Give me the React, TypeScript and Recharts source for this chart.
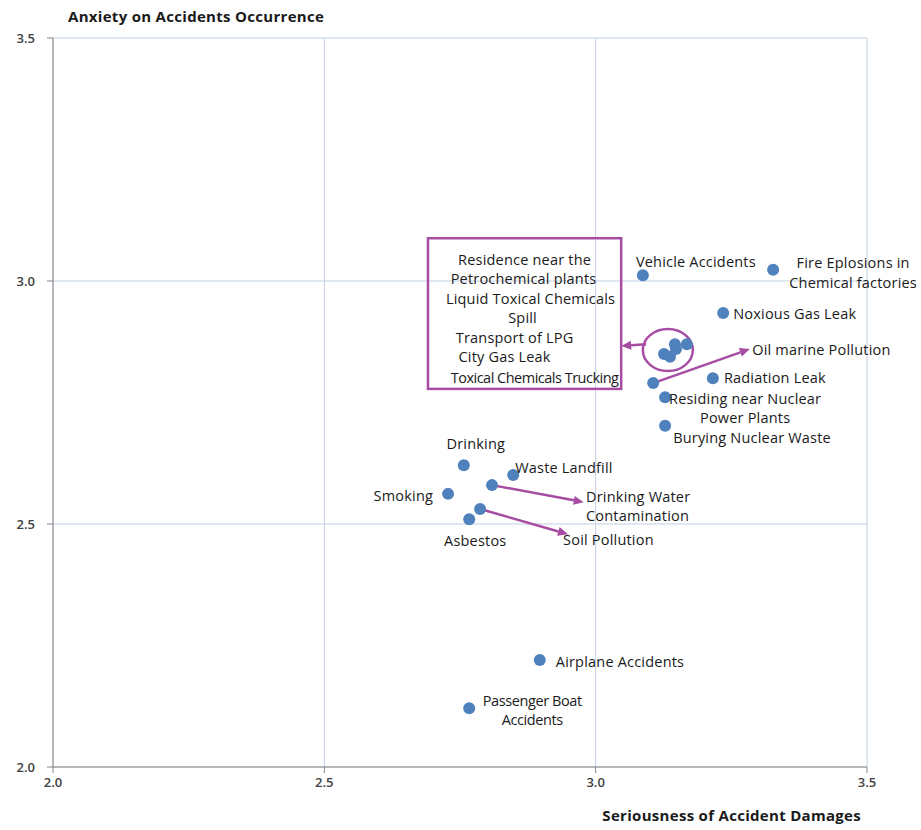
import React from "react";
import {
  ScatterChart,
  Scatter,
  XAxis,
  YAxis,
  CartesianGrid,
  ReferenceArea,
  ReferenceLine,
  ReferenceDot,
} from "recharts";

// ---- Data ----
const pointNames = [
  "Vehicle Accidents",
  "Fire Eplosions in Chemical factories",
  "Noxious Gas Leak",
  "Residence near the Petrochemical plants",
  "Liquid Toxical Chemicals Spill",
  "Transport of LPG",
  "City Gas Leak",
  "Toxical Chemicals Trucking",
  "Oil marine Pollution",
  "Radiation Leak",
  "Residing near Nuclear Power Plants",
  "Burying Nuclear Waste",
  "Drinking",
  "Waste Landfill",
  "Drinking Water Contamination",
  "Smoking",
  "Soil Pollution",
  "Asbestos",
  "Airplane Accidents",
  "Passenger Boat Accidents",
];
const seriousness = [
  3.087, 3.327, 3.235, 3.146, 3.168, 3.126, 3.137, 3.148, 3.106, 3.216, 3.128,
  3.128, 2.757, 2.848, 2.809, 2.728, 2.787, 2.767, 2.897, 2.767,
];
const anxiety = [
  3.012, 3.023, 2.934, 2.87, 2.87, 2.85, 2.844, 2.86, 2.79, 2.8, 2.761, 2.702,
  2.621, 2.601, 2.58, 2.562, 2.531, 2.51, 2.22, 2.121,
];
// label text lines (empty = label shown inside the callout box)
const labelLines: string[][] = [
  ["Vehicle Accidents"],
  ["Fire Eplosions in", "Chemical factories"],
  ["Noxious Gas Leak"],
  [],
  [],
  [],
  [],
  [],
  ["Oil marine Pollution"],
  ["Radiation Leak"],
  ["Residing near Nuclear", "Power  Plants"],
  ["Burying Nuclear Waste"],
  ["Drinking"],
  ["Waste Landfill"],
  ["Drinking Water", "Contamination"],
  ["Smoking"],
  ["Soil Pollution"],
  ["Asbestos"],
  ["Airplane Accidents"],
  ["Passenger Boat", "Accidents"],
];
const boxLabelLines = [
  "Residence near the",
  "Petrochemical plants",
  "Liquid Toxical Chemicals",
  "Spill",
  "Transport of LPG",
  "City Gas Leak",
  "Toxical Chemicals Trucking",
];
const xTicks = [2.0, 2.5, 3.0, 3.5];
const yTicks = [2.0, 2.5, 3.0, 3.5];
const xTitle = "Seriousness of Accident Damages";
const yTitle = "Anxiety on Accidents Occurrence";

// callout geometry in data coordinates
const calloutBox = { x1: 2.691, x2: 3.047, y1: 2.778, y2: 3.088 };
const clusterCenter = { x: 3.133, y: 2.858 };
const arrows = [
  { from: { x: 3.093, y: 2.87 }, to: { x: 3.047, y: 2.866 } },
  { from: { x: 3.106, y: 2.79 }, to: { x: 3.284, y: 2.86 } },
  { from: { x: 2.809, y: 2.58 }, to: { x: 2.978, y: 2.545 } },
  { from: { x: 2.787, y: 2.531 }, to: { x: 2.949, y: 2.479 } },
];

// ---- Layout (pixel offsets of labels relative to points) ----
const labelLayout: { dx: number; dy: number; anchor: "start" | "middle" | "end"; sp?: number }[] = [
  { dx: -7, dy: -14, anchor: "start" },
  { dx: 80, dy: -7, anchor: "middle" },
  { dx: 10, dy: 0, anchor: "start" },
  { dx: 0, dy: 0, anchor: "start" },
  { dx: 0, dy: 0, anchor: "start" },
  { dx: 0, dy: 0, anchor: "start" },
  { dx: 0, dy: 0, anchor: "start" },
  { dx: 0, dy: 0, anchor: "start" },
  { dx: 99, dy: -34, anchor: "start" },
  { dx: 11, dy: -1, anchor: "start" },
  { dx: 80, dy: 1, anchor: "middle" },
  { dx: 8, dy: 12, anchor: "start" },
  { dx: 12, dy: -22, anchor: "middle" },
  { dx: 2, dy: -7, anchor: "start" },
  { dx: 94, dy: 11, anchor: "start" },
  { dx: -15, dy: 2, anchor: "end" },
  { dx: 83, dy: 31, anchor: "start" },
  { dx: 6, dy: 21, anchor: "middle" },
  { dx: 16, dy: 1, anchor: "start" },
  { dx: 63, dy: -8, anchor: "middle", sp: -0.4 },
];

const FONT = "'Open Sans', Lato, sans-serif";
const DOT = "#4F81BD";
const PURPLE = "#A64CA2";
const GRID = "#C3CFE2";
const AXIS = "#868686";
const LINE_H = 19.5;
const LABEL_SIZE = 14.5;
const LABEL_SPACING = 0.2;

const data = pointNames.map((name, i) => ({
  name,
  x: seriousness[i],
  y: anxiety[i],
  idx: i,
}));

const PointShape = (props: any) => {
  const { cx, cy, payload } = props;
  if (cx == null || cy == null) return null;
  const i = payload.idx;
  const lines = labelLines[i];
  const lay = labelLayout[i];
  return (
    <g>
      <circle cx={cx} cy={cy} r={6} fill={DOT} />
      {lines.map((t, k) => (
        <text
          key={k}
          x={cx + lay.dx}
          y={cy + lay.dy + k * LINE_H}
          textAnchor={lay.anchor}
          dominantBaseline="central"
          fontFamily={FONT}
          fontSize={LABEL_SIZE}
          letterSpacing={lay.sp ?? LABEL_SPACING}
          fill="#1a1a1a"
        >
          {t}
        </text>
      ))}
    </g>
  );
};

const boxLineOffsets = [0, -1, 6, -2, -10, -20, 10];
const boxLineSpacing = [0.2, 0.2, 0.2, 0.2, 0.2, 0.2, -0.5];

const BoxShape = (props: any) => {
  const { x, y, width, height } = props;
  const cx = x + width / 2;
  return (
    <g>
      <rect x={x} y={y} width={width} height={height} fill="none" stroke={PURPLE} strokeWidth={2.5} />
      {boxLabelLines.map((t, k) => (
        <text
          key={k}
          x={cx + boxLineOffsets[k]}
          y={y + 21 + k * 19.5 + (k === 6 ? 1.5 : 0)}
          textAnchor="middle"
          dominantBaseline="central"
          fontFamily={FONT}
          fontSize={LABEL_SIZE}
          letterSpacing={boxLineSpacing[k]}
          fill="#1a1a1a"
        >
          {t}
        </text>
      ))}
    </g>
  );
};

const ArrowShape = (props: any) => {
  const { x1, y1, x2, y2 } = props;
  if (x1 == null) return null;
  const ang = Math.atan2(y2 - y1, x2 - x1);
  const L = 10;
  const W = 4.5;
  const bx = x2 - L * Math.cos(ang);
  const by = y2 - L * Math.sin(ang);
  const px = -Math.sin(ang) * W;
  const py = Math.cos(ang) * W;
  return (
    <g>
      <line x1={x1} y1={y1} x2={bx} y2={by} stroke={PURPLE} strokeWidth={2.5} />
      <polygon points={`${x2},${y2} ${bx + px},${by + py} ${bx - px},${by - py}`} fill={PURPLE} />
    </g>
  );
};

const EllipseShape = (props: any) => {
  const { cx, cy } = props;
  if (cx == null) return null;
  return <ellipse cx={cx} cy={cy} rx={25} ry={21} fill="none" stroke={PURPLE} strokeWidth={2.5} />;
};

const tickStyle = { fontFamily: FONT, fontSize: 13, fontWeight: 600, fill: "#404040" };

export default function App() {
  return (
    <div style={{ position: "absolute", left: 0, top: 0, background: "#fff" }}>
      <ScatterChart
        width={921}
        height={830}
        margin={{ top: 38, right: 54, bottom: 0, left: 0 }}
      >
        <CartesianGrid stroke={GRID} strokeWidth={1} />
        <XAxis
          type="number"
          dataKey="x"
          domain={[2, 3.5]}
          ticks={xTicks}
          tickFormatter={(v: number) => v.toFixed(1)}
          height={63}
          stroke={AXIS}
          tickSize={6}
          tickMargin={5}
          tick={tickStyle}
          label={{
            content: (p: any) => {
              const vb = p.viewBox;
              return (
                <text
                  x={vb.x + vb.width - 6}
                  y={vb.y + 48}
                  textAnchor="end"
                  dominantBaseline="central"
                  fontFamily={FONT}
                  fontSize={15}
                  letterSpacing={0.3}
                  fontWeight={700}
                  fill="#1a1a1a"
                >
                  {xTitle}
                </text>
              );
            },
          }}
        />
        <YAxis
          type="number"
          dataKey="y"
          domain={[2, 3.5]}
          ticks={yTicks}
          tickFormatter={(v: number) => v.toFixed(1)}
          width={53}
          stroke={AXIS}
          tickSize={6}
          tickMargin={12}
          tick={tickStyle}
          label={{
            content: (p: any) => {
              const vb = p.viewBox;
              return (
                <text
                  x={68}
                  y={vb.y - 22}
                  textAnchor="start"
                  dominantBaseline="central"
                  fontFamily={FONT}
                  fontSize={15}
                  letterSpacing={0.3}
                  fontWeight={700}
                  fill="#1a1a1a"
                >
                  {yTitle}
                </text>
              );
            },
          }}
        />
        <ReferenceArea
          x1={calloutBox.x1}
          x2={calloutBox.x2}
          y1={calloutBox.y1}
          y2={calloutBox.y2}
          shape={BoxShape}
          ifOverflow="visible"
        />
        <ReferenceDot
          x={clusterCenter.x}
          y={clusterCenter.y}
          shape={EllipseShape}
          ifOverflow="visible"
        />
        {arrows.map((a, i) => (
          <ReferenceLine
            key={i}
            segment={[a.from, a.to]}
            shape={ArrowShape}
            ifOverflow="visible"
          />
        ))}
        <Scatter data={data} shape={PointShape} isAnimationActive={false} />
      </ScatterChart>
    </div>
  );
}
